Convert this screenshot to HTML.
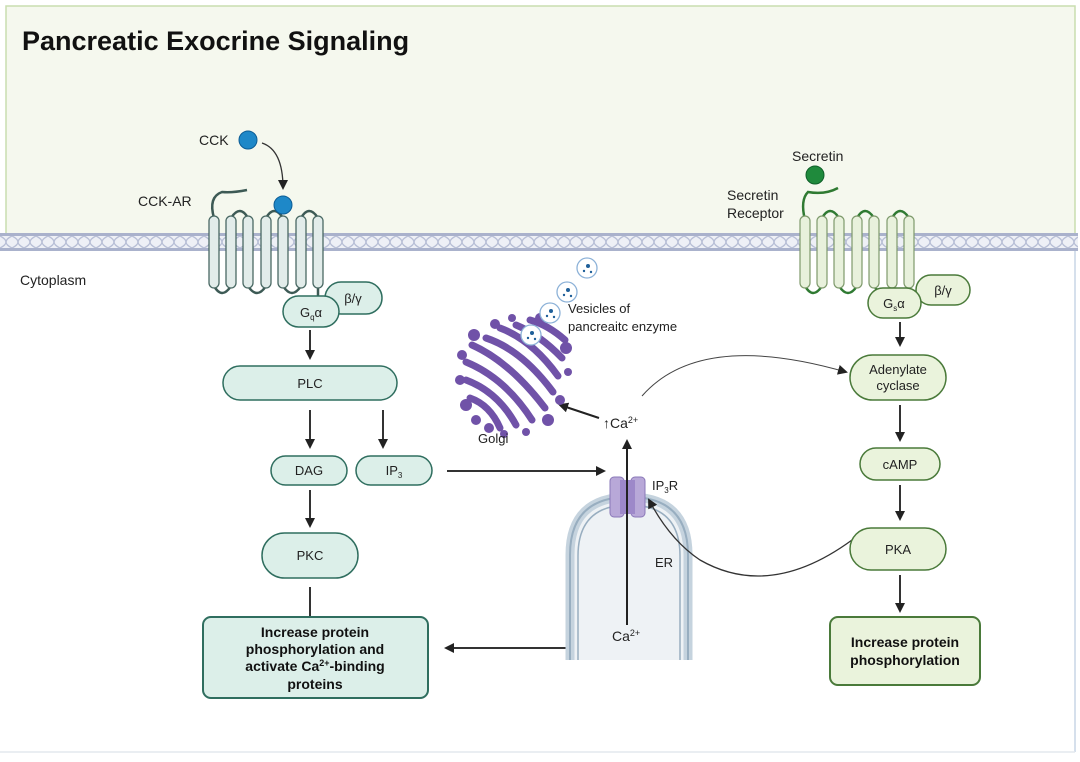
<!DOCTYPE html>
<html><head><meta charset="utf-8"><style>
html,body{margin:0;padding:0;background:#fff;}
svg{display:block;font-family:"Liberation Sans",Arial,sans-serif;}
</style></head><body>
<svg width="1080" height="762" viewBox="0 0 1080 762" xmlns="http://www.w3.org/2000/svg">
<defs>
<marker id="ah" markerWidth="10" markerHeight="10" refX="8" refY="5" orient="auto" markerUnits="userSpaceOnUse"><path d="M0,0 L10,5 L0,10 Z" fill="#222"/></marker>
<pattern id="mem" x="0" y="234" width="12" height="16" patternUnits="userSpaceOnUse">
<rect width="12" height="16" fill="#eef0f6"/>
<path d="M0,2 Q6,5 6,8 Q6,11 0,14 M12,2 Q6,5 6,8 Q6,11 12,14" stroke="#b8bfd6" stroke-width="1.4" fill="none"/>
</pattern>
</defs>
<rect x="0" y="0" width="1080" height="762" fill="#fff"/>
<rect x="6" y="6" width="1069" height="228" fill="#f5f8ee" stroke="#c9deaf" stroke-width="1.5"/>
<line x1="1075" y1="250" x2="1075" y2="752" stroke="#c8d6e6" stroke-width="1.5"/>
<line x1="0" y1="752" x2="1075" y2="752" stroke="#e4e8ee" stroke-width="1.5"/>
<rect x="0" y="234" width="1078" height="16" fill="url(#mem)"/>
<line x1="0" y1="234.5" x2="1078" y2="234.5" stroke="#aab2cc" stroke-width="3"/>
<line x1="0" y1="249.5" x2="1078" y2="249.5" stroke="#aab2cc" stroke-width="3"/>

<text x="22" y="50" font-size="27" font-weight="bold" fill="#111">Pancreatic Exocrine Signaling</text>
<text x="20" y="285" font-size="14" fill="#222">Cytoplasm</text>

<text x="199" y="145" font-size="14" fill="#222">CCK</text>
<circle cx="248" cy="140" r="9" fill="#1e88c8" stroke="#0d5d95"/>
<path d="M262,143 Q283,150 283,188" stroke="#333" stroke-width="1.3" fill="none" marker-end="url(#ah)"/>
<text x="138" y="206" font-size="14" fill="#222">CCK-AR</text>
<path d="M214,218 Q208,197 222,192 Q232,193 247,190" stroke="#3d5a55" stroke-width="2.5" fill="none"/>
<g stroke="#3d5a55" stroke-width="2.5" fill="none">
<path d="M214,286 Q222,300 231,286"/><path d="M248,286 Q257,300 266,286"/><path d="M283,286 Q292,300 301,286"/>
<path d="M231,218 Q240,204 248,218"/><path d="M266,218 Q274,204 283,218"/><path d="M301,218 Q309,204 318,218"/>
<path d="M318,286 L318,300"/>
</g>
<g fill="#e2ecea" stroke="#4a6964" stroke-width="1.3">
<rect x="209" y="216" width="10" height="72" rx="5"/><rect x="226" y="216" width="10" height="72" rx="5"/>
<rect x="243" y="216" width="10" height="72" rx="5"/><rect x="261" y="216" width="10" height="72" rx="5"/>
<rect x="278" y="216" width="10" height="72" rx="5"/><rect x="296" y="216" width="10" height="72" rx="5"/>
<rect x="313" y="216" width="10" height="72" rx="5"/>
</g>
<circle cx="283" cy="205" r="9" fill="#1e88c8" stroke="#0d5d95"/>
<rect x="325" y="282" width="57" height="32" rx="16" fill="#dcefe9" stroke="#2f6e5f" stroke-width="1.5"/>
<text x="353" y="303" font-size="13" text-anchor="middle" fill="#222">β/γ</text>
<rect x="283" y="296" width="56" height="31" rx="15.5" fill="#dcefe9" stroke="#2f6e5f" stroke-width="1.5"/>
<text x="311" y="317" font-size="13" text-anchor="middle" fill="#222">G<tspan font-size="8" dy="3">q</tspan><tspan dy="-3">α</tspan></text>

<g stroke="#333" stroke-width="2" fill="none">
<line x1="310" y1="330" x2="310" y2="358" marker-end="url(#ah)"/>
<line x1="310" y1="410" x2="310" y2="447" marker-end="url(#ah)"/>
<line x1="383" y1="410" x2="383" y2="447" marker-end="url(#ah)"/>
<line x1="310" y1="490" x2="310" y2="526" marker-end="url(#ah)"/>
<line x1="310" y1="587" x2="310" y2="617"/>
<line x1="447" y1="471" x2="604" y2="471" marker-end="url(#ah)"/>
<line x1="568" y1="648" x2="446" y2="648" marker-end="url(#ah)"/>
<line x1="900" y1="322" x2="900" y2="345" marker-end="url(#ah)"/>
<line x1="900" y1="405" x2="900" y2="440" marker-end="url(#ah)"/>
<line x1="900" y1="485" x2="900" y2="519" marker-end="url(#ah)"/>
<line x1="900" y1="575" x2="900" y2="611" marker-end="url(#ah)"/>
</g>

<g fill="#dcefe9" stroke="#2f6e5f" stroke-width="1.5">
<rect x="223" y="366" width="174" height="34" rx="17"/>
<rect x="271" y="456" width="76" height="29" rx="14.5"/>
<rect x="356" y="456" width="76" height="29" rx="14.5"/>
<rect x="262" y="533" width="96" height="45" rx="22.5"/>
<rect x="203" y="617" width="225" height="81" rx="8" stroke-width="2"/>
</g>
<g font-size="13" text-anchor="middle" fill="#222">
<text x="310" y="388">PLC</text>
<text x="309" y="475">DAG</text>
<text x="394" y="475">IP<tspan font-size="8" dy="3">3</tspan></text>
<text x="310" y="560">PKC</text>
</g>
<g font-size="14" font-weight="bold" text-anchor="middle" fill="#111">
<text x="315" y="637">Increase protein</text>
<text x="315" y="654">phosphorylation and</text>
<text x="315" y="671">activate Ca<tspan font-size="9" dy="-5">2+</tspan><tspan dy="5">-binding</tspan></text>
<text x="315" y="689">proteins</text>
</g>

<path d="M570,660 L570,555 Q570,497 629,497 Q688,497 688,555 L688,660" fill="#eef2f5" stroke="#c5d3de" stroke-width="9"/>
<path d="M570,660 L570,555 Q570,497 629,497 Q688,497 688,555 L688,660" fill="none" stroke="#98aec0" stroke-width="2"/>
<path d="M578,660 L578,556 Q578,505 629,505 Q680,505 680,556 L680,660" fill="none" stroke="#98aec0" stroke-width="1.5"/>
<rect x="610" y="477" width="14" height="40" rx="4" fill="#b8a8d8" stroke="#8a78b8"/>
<rect x="631" y="477" width="14" height="40" rx="4" fill="#b8a8d8" stroke="#8a78b8"/>
<rect x="620" y="480" width="15" height="34" fill="#9d88c9"/>
<text x="652" y="490" font-size="13" fill="#222">IP<tspan font-size="8" dy="3">3</tspan><tspan dy="-3">R</tspan></text>
<text x="655" y="567" font-size="13" fill="#222">ER</text>
<line x1="627" y1="625" x2="627" y2="441" stroke="#222" stroke-width="2" marker-end="url(#ah)"/>
<text x="612" y="641" font-size="14" fill="#222">Ca<tspan font-size="9" dy="-5">2+</tspan></text>
<text x="603" y="428" font-size="14" fill="#222">↑Ca<tspan font-size="9" dy="-5">2+</tspan></text>
<line x1="599" y1="418" x2="560" y2="405" stroke="#222" stroke-width="2" marker-end="url(#ah)"/>

<g stroke="#7052a8" stroke-linecap="round" fill="none" stroke-width="7">
<path d="M472,345 Q510,362 545,408"/>
<path d="M466,362 Q505,378 532,420"/>
<path d="M466,380 Q498,392 516,425"/>
<path d="M470,398 Q490,405 500,428"/>
<path d="M486,338 Q522,350 553,392"/>
<path d="M500,328 Q532,340 558,376"/>
<path d="M516,325 Q540,335 562,358"/>
<path d="M530,320 Q548,325 565,340"/>
</g>
<g fill="#7052a8">
<circle cx="466" cy="405" r="6"/><circle cx="476" cy="420" r="5"/><circle cx="489" cy="428" r="5"/>
<circle cx="504" cy="434" r="4"/><circle cx="462" cy="355" r="5"/><circle cx="474" cy="335" r="6"/>
<circle cx="495" cy="324" r="5"/><circle cx="540" cy="318" r="5"/><circle cx="566" cy="348" r="6"/>
<circle cx="560" cy="400" r="5"/><circle cx="548" cy="420" r="6"/><circle cx="460" cy="380" r="5"/>
<circle cx="526" cy="432" r="4"/><circle cx="512" cy="318" r="4"/><circle cx="568" cy="372" r="4"/>
</g>
<text x="478" y="443" font-size="13" fill="#222">Golgi</text>
<g fill="#fff" stroke="#8db2d8" stroke-width="1.3">
<circle cx="587" cy="268" r="10"/><circle cx="567" cy="292" r="10"/>
<circle cx="550" cy="313" r="10"/><circle cx="531" cy="335" r="10"/>
</g>
<g fill="#1f5f99">
<circle cx="588" cy="266" r="2"/><circle cx="584" cy="271" r="1.2"/><circle cx="591" cy="272" r="1.2"/>
<circle cx="568" cy="290" r="2"/><circle cx="564" cy="295" r="1.2"/><circle cx="571" cy="296" r="1.2"/>
<circle cx="551" cy="311" r="2"/><circle cx="547" cy="316" r="1.2"/><circle cx="554" cy="317" r="1.2"/>
<circle cx="532" cy="333" r="2"/><circle cx="528" cy="338" r="1.2"/><circle cx="535" cy="339" r="1.2"/>
</g>
<text x="568" y="313" font-size="13" fill="#222">Vesicles of</text>
<text x="568" y="331" font-size="13" fill="#222">pancreaitc enzyme</text>

<path d="M642,396 Q700,330 846,372" stroke="#444" stroke-width="1" fill="none" marker-end="url(#ah)"/>
<path d="M852,540 Q770,600 700,560 Q670,540 649,500" stroke="#333" stroke-width="1.3" fill="none" marker-end="url(#ah)"/>

<text x="792" y="161" font-size="14" fill="#222">Secretin</text>
<circle cx="815" cy="175" r="9" fill="#1f8a3c" stroke="#10602a"/>
<text x="727" y="200" font-size="14" fill="#222">Secretin</text>
<text x="727" y="218" font-size="14" fill="#222">Receptor</text>
<path d="M805,220 Q800,200 808,192 Q825,195 838,188" stroke="#2f7a32" stroke-width="2.5" fill="none"/>
<g stroke="#2f7a32" stroke-width="2.5" fill="none">
<path d="M805,286 Q813,300 822,286"/><path d="M839,286 Q848,300 857,286"/><path d="M874,286 Q883,300 892,286"/>
<path d="M822,218 Q830,204 839,218"/><path d="M857,218 Q865,204 874,218"/><path d="M892,218 Q900,204 909,218"/>
<path d="M909,286 L909,296"/>
</g>
<g fill="#e8f1dc" stroke="#7e9a6c" stroke-width="1.2">
<rect x="800" y="216" width="10" height="72" rx="5"/><rect x="817" y="216" width="10" height="72" rx="5"/>
<rect x="834" y="216" width="10" height="72" rx="5"/><rect x="852" y="216" width="10" height="72" rx="5"/>
<rect x="869" y="216" width="10" height="72" rx="5"/><rect x="887" y="216" width="10" height="72" rx="5"/>
<rect x="904" y="216" width="10" height="72" rx="5"/>
</g>
<rect x="916" y="275" width="54" height="30" rx="15" fill="#eaf3dc" stroke="#4a7a3a" stroke-width="1.5"/>
<text x="943" y="295" font-size="13" text-anchor="middle" fill="#222">β/γ</text>
<rect x="868" y="288" width="53" height="30" rx="15" fill="#eaf3dc" stroke="#4a7a3a" stroke-width="1.5"/>
<text x="894" y="308" font-size="13" text-anchor="middle" fill="#222">G<tspan font-size="8" dy="3">s</tspan><tspan dy="-3">α</tspan></text>

<g fill="#eaf3dc" stroke="#4a7a3a" stroke-width="1.5">
<rect x="850" y="355" width="96" height="45" rx="22.5"/>
<rect x="860" y="448" width="80" height="32" rx="16"/>
<rect x="850" y="528" width="96" height="42" rx="21"/>
<rect x="830" y="617" width="150" height="68" rx="8" stroke-width="2"/>
</g>
<g font-size="13" text-anchor="middle" fill="#222">
<text x="898" y="374">Adenylate</text>
<text x="898" y="390">cyclase</text>
<text x="900" y="469">cAMP</text>
<text x="898" y="554">PKA</text>
</g>
<g font-size="14" font-weight="bold" text-anchor="middle" fill="#111">
<text x="905" y="647">Increase protein</text>
<text x="905" y="665">phosphorylation</text>
</g>
</svg>
</body></html>
